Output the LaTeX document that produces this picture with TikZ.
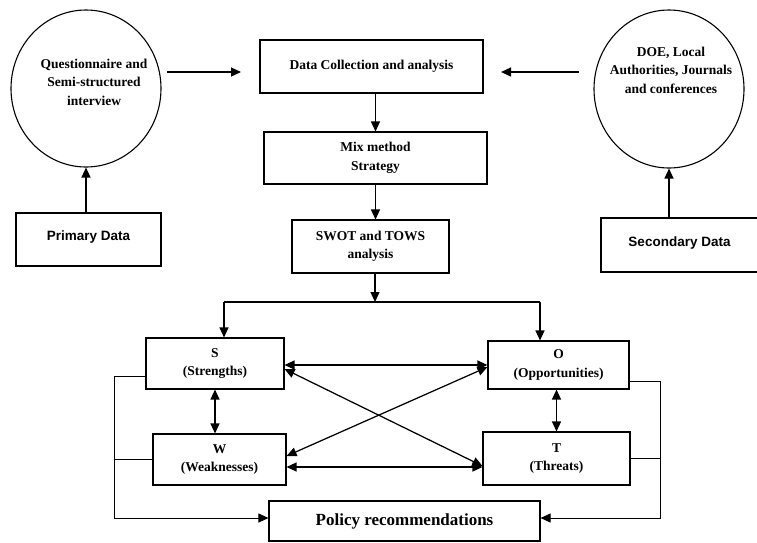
\documentclass[tikz,border=0pt]{standalone}
\usepackage{fontspec}
\setmainfont{Liberation Serif}
\newfontfamily\arialf{Liberation Sans}
\usetikzlibrary{arrows.meta,shapes.geometric,calc}
\begin{document}
\begin{tikzpicture}[x=1pt,y=-1pt,
  box/.style={draw,line width=1.1pt,inner sep=0pt,font=\bfseries\fontsize{13.5}{18.5}\selectfont,align=center},
  oval/.style={draw,ellipse,line width=1.1pt,inner sep=0pt},
  txt/.style={inner sep=0pt,font=\bfseries\fontsize{13.5}{18.5}\selectfont,align=center},
  arr/.style={line width=1.25pt,-{Triangle[length=10pt,width=9pt]}},
  darr/.style={line width=1.25pt,{Triangle[length=10pt,width=9pt]}-{Triangle[length=10pt,width=9pt]}},
  fb/.style={line width=0.9pt},
  fbarr/.style={line width=0.9pt,-{Triangle[length=10pt,width=9pt]}}]
\useasboundingbox (0,0) rectangle (757,542);
% circles
\node[oval,minimum width=150pt,minimum height=157pt] (lc) at (86,88.5) {};
\node[txt] (lct) at (94,82) {Questionnaire and\\Semi-structured\\interview};
\node[oval,minimum width=150pt,minimum height=158pt] (rc) at (669,89) {};
\node[txt] (rct) at (671,70) {DOE, Local\\Authorities, Journals\\and conferences};
% main boxes
\node[box,minimum width=223pt,minimum height=53pt] (dc) at (371.5,66.5) {Data Collection and analysis};
\node[box,minimum width=223pt,minimum height=52pt] (mix) at (375.5,158) {Mix method\\Strategy};
\node[box,minimum width=157pt,minimum height=53pt] (swot) at (370.5,246.5) {SWOT and TOWS\\analysis};
\node[box,font=\arialf\bfseries\fontsize{13.5}{16}\selectfont,text depth=7pt,minimum width=145pt,minimum height=53pt] (pd) at (88.5,239.5) {Primary Data};
\node[box,font=\arialf\bfseries\fontsize{13.5}{16}\selectfont,text depth=7pt,minimum width=157pt,minimum height=54pt] (sd) at (679.5,245) {Secondary Data};
\node[box,minimum width=138pt,minimum height=51pt] (S) at (215,363.5) {S\\(Strengths)};
\node[box,minimum width=133pt,minimum height=51pt] (W) at (219.5,459.5) {W\\(Weaknesses)};
\node[box,minimum width=141pt,minimum height=48pt] (O) at (558.5,365) {O\\(Opportunities)};
\node[box,minimum width=147pt,minimum height=53pt] (T) at (556.5,458.5) {T\\(Threats)};
\node[box,font=\bfseries\fontsize{17}{20}\selectfont,minimum width=271pt,minimum height=40pt] (pr) at (404.5,521) {Policy recommendations};
% top arrows
\coordinate (a1s) at (167,72); \coordinate (a1e) at (241,72);
\draw[arr] (a1s) -- (a1e);
\coordinate (a2s) at (579,72); \coordinate (a2e) at (501,72);
\draw[arr] (a2s) -- (a2e);
\draw[arr] (lc.south |- pd.north) -- (lc.south);
\draw[arr] (rc.south |- sd.north) -- (rc.south);
\draw[arr] (mix.north |- dc.south) -- (mix.north);
\draw[arr] (mix.south) -- (mix.south |- swot.north);
% split
\coordinate (jm) at (375,302); \coordinate (jl) at (224,302); \coordinate (jr) at (540,302);
\draw[arr] (swot.south -| jm) -- (jm);
\draw[line width=1.1pt] (jl) -- (jr);
\draw[arr] (jl) -- (jl |- S.north);
\draw[arr] (jr) -- (jr |- O.north);
% SWOT relations
\draw[darr] (S.south) -- (S.south |- W.north);
\draw[darr] (T.north |- O.south) -- (T.north);
\draw[darr] (S.east |- O.west) -- (O.west);
\draw[darr] (W.east |- 0,467) -- (T.west |- 0,467);
\draw[darr] (S.east |- 0,369) -- (T.west |- 0,466);
\draw[darr] (W.east |- 0,456) -- (O.west |- 0,367);
% feedback to policy
\coordinate (lx) at (114,376);
\coordinate (rx) at (660,381);
\draw[fb] (S.west |- lx) -- (lx);
\draw[fb] (W.west) -- (W.west -| lx);
\draw[fbarr] (lx) -- (lx |- 0,518) -- (pr.west |- 0,518);
\draw[fb] (O.east |- rx) -- (rx);
\draw[fb] (T.east) -- (T.east -| rx);
\draw[fbarr] (rx) -- (rx |- 0,518) -- (pr.east |- 0,518);
\end{tikzpicture}
\end{document}
